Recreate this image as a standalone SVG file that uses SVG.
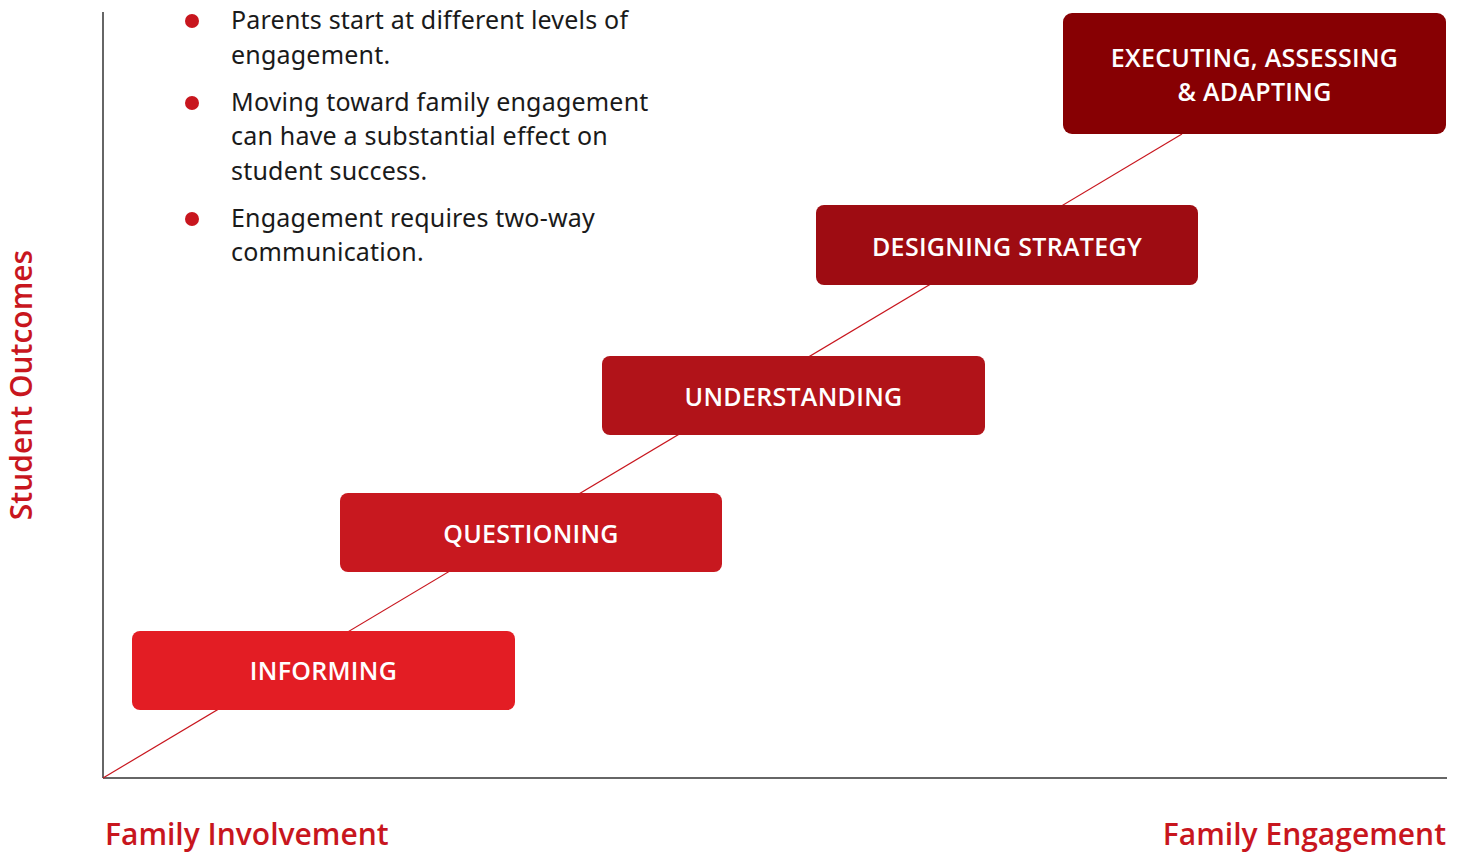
<svg xmlns="http://www.w3.org/2000/svg" width="1466" height="852" viewBox="0 0 1466 852">
  <style>
    .box-label { font-family: "Open Sans", "Noto Sans", "Liberation Sans", sans-serif; font-weight: 600; font-size: 25px; letter-spacing: 0.3px; fill: #ffffff; text-anchor: middle; }
    .bullet-text { font-family: "Noto Sans", "Open Sans", "Liberation Sans", sans-serif; font-size: 25px; letter-spacing: 0.2px; fill: #1a1a1a; }
    .axis-label { font-family: "Open Sans", "Noto Sans", "Liberation Sans", sans-serif; font-weight: 600; font-size: 30px; fill: #c8161e; }
    .bullet { fill: #c8161e; }
    .axis { stroke: #333333; stroke-width: 1.5; fill: none; }
    .trend { stroke: #c8161e; stroke-width: 1.2; fill: none; }
  </style>

  <rect width="1466" height="852" fill="#ffffff"/>

  <!-- axes -->
  <g id="axes">
    <line class="axis" x1="103" y1="12" x2="103" y2="778"/>
    <line class="axis" x1="103" y1="778" x2="1447" y2="778"/>
  </g>

  <!-- rising trend line behind the stages -->
  <g id="connectors">
    <line class="trend" x1="103" y1="778" x2="1182" y2="134"/>
  </g>

  <!-- stages -->
  <g id="informing">
    <rect x="132" y="631" width="383" height="79" rx="8" fill="#e31d24"/>
    <text class="box-label" x="323.5" y="680">INFORMING</text>
  </g>
  <g id="questioning">
    <rect x="340" y="493" width="382" height="79" rx="8" fill="#c8181f"/>
    <text class="box-label" x="531" y="543">QUESTIONING</text>
  </g>
  <g id="understanding">
    <rect x="602" y="356" width="383" height="79" rx="8" fill="#b11319"/>
    <text class="box-label" x="793.5" y="406">UNDERSTANDING</text>
  </g>
  <g id="designing-strategy">
    <rect x="816" y="205" width="382" height="80" rx="8" fill="#9e0c12"/>
    <text class="box-label" x="1007" y="256">DESIGNING STRATEGY</text>
  </g>
  <g id="executing">
    <rect x="1063" y="13" width="383" height="121" rx="9" fill="#870003"/>
    <text class="box-label" x="1254.5" y="67">EXECUTING, ASSESSING</text>
    <text class="box-label" x="1254.5" y="101">&amp; ADAPTING</text>
  </g>

  <!-- notes -->
  <g id="notes">
    <circle class="bullet" cx="192" cy="21" r="7"/>
    <circle class="bullet" cx="192" cy="103" r="7"/>
    <circle class="bullet" cx="192" cy="219" r="7"/>
    <text class="bullet-text" x="231" y="29">Parents start at different levels of</text>
    <text class="bullet-text" x="231" y="64">engagement.</text>
    <text class="bullet-text" x="231" y="111">Moving toward family engagement</text>
    <text class="bullet-text" x="231" y="145">can have a substantial effect on</text>
    <text class="bullet-text" x="231" y="180">student success.</text>
    <text class="bullet-text" x="231" y="227">Engagement requires two-way</text>
    <text class="bullet-text" x="231" y="261">communication.</text>
  </g>

  <!-- axis captions -->
  <g id="axis-labels">
    <text class="axis-label" transform="translate(32,385) rotate(-90)" text-anchor="middle">Student Outcomes</text>
    <text class="axis-label" x="105" y="845">Family Involvement</text>
    <text class="axis-label" x="1446" y="845" text-anchor="end">Family Engagement</text>
  </g>
</svg>
